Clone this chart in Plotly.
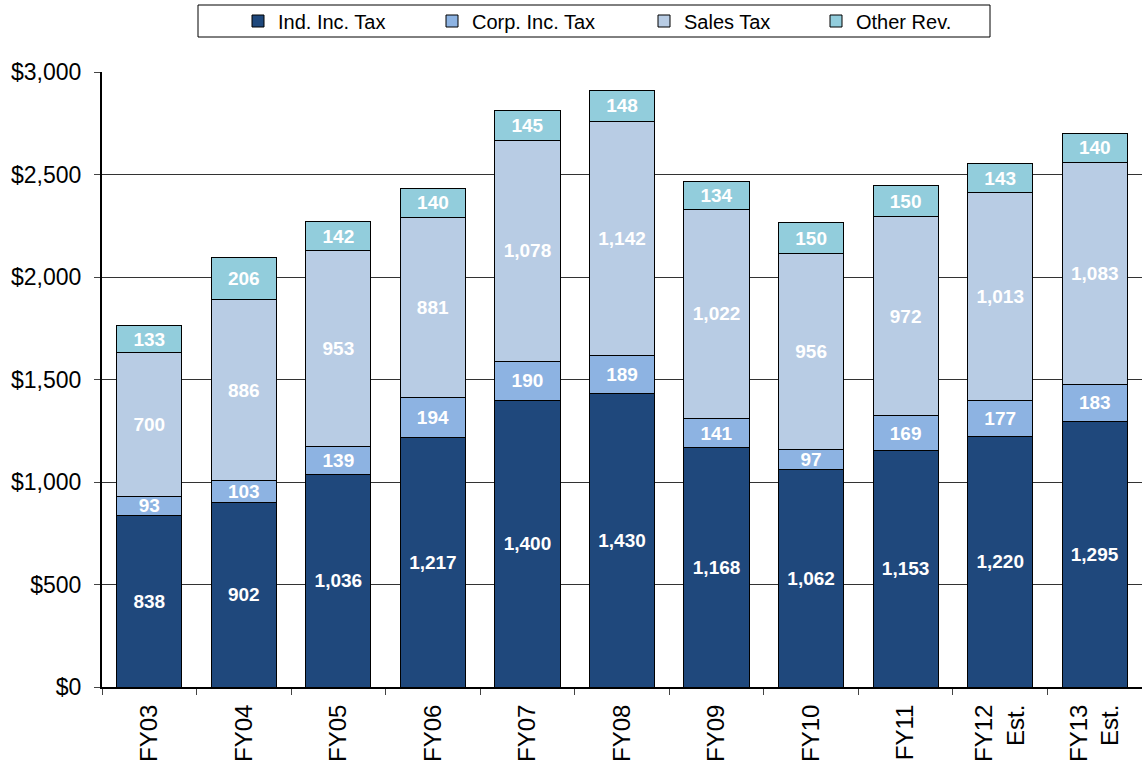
import plotly.graph_objects as go

# fiscal years and revenue by source ($ millions)
years = ["FY03", "FY04", "FY05", "FY06", "FY07", "FY08", "FY09", "FY10", "FY11",
         "FY12<br>Est.", "FY13<br>Est."]
ind_inc_tax = [838, 902, 1036, 1217, 1400, 1430, 1168, 1062, 1153, 1220, 1295]
corp_inc_tax = [93, 103, 139, 194, 190, 189, 141, 97, 169, 177, 183]
sales_tax = [700, 886, 953, 881, 1078, 1142, 1022, 956, 972, 1013, 1083]
other_rev = [133, 206, 142, 140, 145, 148, 134, 150, 150, 143, 140]

y_ticks = [0, 500, 1000, 1500, 2000, 2500, 3000]
y_labels = ["$" + format(v, ",") for v in y_ticks]

series = [
    ("Ind. Inc. Tax", ind_inc_tax, "#1F487C"),
    ("Corp. Inc. Tax", corp_inc_tax, "#8DB3E2"),
    ("Sales Tax", sales_tax, "#B8CCE4"),
    ("Other Rev.", other_rev, "#92CDDC"),
]

W, H = 1142, 761
L, R, T, B = 102, 0, 72, 74
plot_w = W - L - R
plot_h = H - T - B

# x pixel where each legend label starts (Excel spaces them unevenly)
legend_text_x = [278, 472, 684, 856]
legend_names = ["legend", "legend2", "legend3", "legend4"]

fig = go.Figure()
for (name, vals, color), lg in zip(series, legend_names):
    fig.add_trace(go.Bar(
        name=name, x=years, y=vals, legend=lg, showlegend=True,
        marker=dict(color=color, line=dict(color="black", width=1)),
        texttemplate="%{y:,}", textposition="inside",
        insidetextanchor="middle", textangle=0,
        textfont=dict(family="Liberation Sans", size=19, color="white",
                      weight="bold"),
    ))

legends = {}
for lg, tx in zip(legend_names, legend_text_x):
    legends[lg] = dict(
        orientation="h", x=(tx - 40 - L) / plot_w, xanchor="left",
        y=1 + (T - 21) / plot_h, yanchor="middle",
        font=dict(size=20), itemwidth=30,
        bgcolor="rgba(0,0,0,0)",
    )

fig.update_layout(
    barmode="stack",
    bargap=0.31,
    width=W, height=H,
    margin=dict(l=L, r=R, t=T, b=B),
    plot_bgcolor="white",
    paper_bgcolor="white",
    showlegend=True,
    font=dict(family="Liberation Sans", color="black"),
    uniformtext=dict(minsize=19, mode="show"),
    shapes=[dict(
        type="rect", xref="paper", yref="paper",
        x0=(198 - L) / plot_w, x1=(990 - L) / plot_w,
        y0=1 + (T - 37) / plot_h, y1=1 + (T - 5) / plot_h,
        line=dict(color="black", width=1), fillcolor="rgba(0,0,0,0)",
        layer="below",
    )],
    **legends,
)

fig.update_xaxes(
    tickangle=-90, tickfont=dict(size=24), ticklabelstandoff=6,
    showline=True, linecolor="black", linewidth=2,
    ticks="outside", ticklen=6, tickcolor="#444",
    tickson="boundaries", automargin=False,
)
fig.update_yaxes(
    range=[0, 3000], tickvals=y_ticks, ticktext=y_labels,
    tickfont=dict(size=23), ticklabelstandoff=8,
    showgrid=True, gridcolor="#333", gridwidth=1,
    showline=True, linecolor="black", linewidth=2,
    ticks="outside", ticklen=6, tickcolor="#444",
    zeroline=False, automargin=False,
)

# drop the browser's default body margin so the figure fills the window
fig.write_html("out.html",
               config={"displayModeBar": False},
               post_script="document.body.style.margin='0';"
                           "document.body.style.overflow='hidden';")
